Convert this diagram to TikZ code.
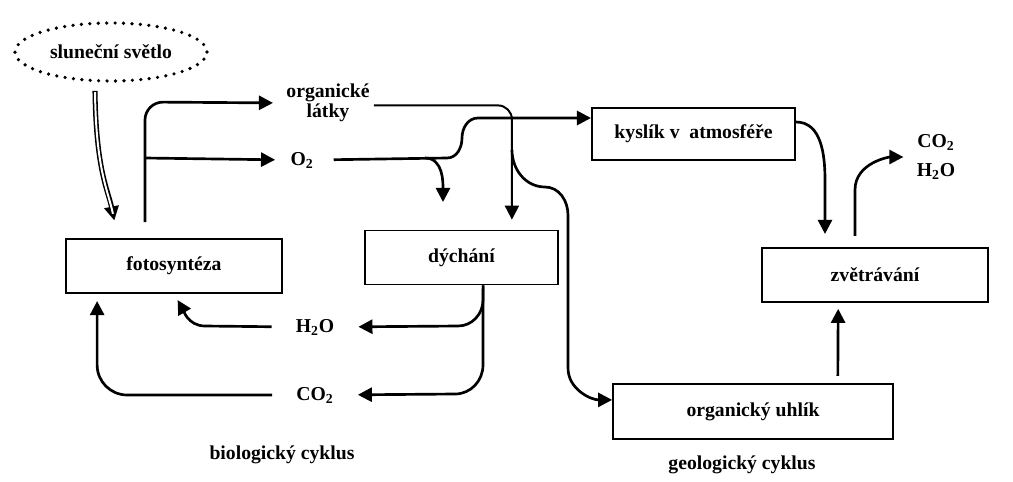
\documentclass[tikz,border=0pt]{standalone}
\usepackage{fontspec}
\setmainfont{Liberation Serif}
\usepackage{tikz}
\usetikzlibrary{arrows.meta}
\usetikzlibrary{shapes.geometric}

\begin{document}
\begin{tikzpicture}[x=0.025cm, y=-0.025cm, font=\fontsize{14}{14}\selectfont\bfseries]
%(x,y) in pixels of the scanned sketch, y pointing down

\tikzstyle{cyklbox}=[draw=black, line width=1.2pt, minimum height=1.35cm]
\tikzstyle{cykltext}=[align=center, inner sep=0pt]
\tikzstyle{tok}=[line width=1.9pt, -{Triangle[length=10pt,width=10pt]}]
\tikzstyle{tenky}=[tok, line width=1.4pt]

\useasboundingbox (0,0) rectangle (1013,481);

\node[ellipse, draw, line width=2.6pt, dash pattern=on 0pt off 6pt, line cap=round,
minimum width=4.8cm, minimum height=1.45cm] (slunce) at (111,52) {sluneční světlo};

\node[cyklbox, minimum width=5.4cm] (foto) at (174,266) {fotosyntéza};
\node[cyklbox, minimum width=4.83cm] (dych) at (461.5,257.5) {dýchání};
\node[cyklbox, minimum width=5.08cm, minimum height=1.3cm] (kyslik) at (693.5,134) {kyslík v\ \ atmosféře};
\node[cyklbox, minimum width=5.65cm] (zvetr) at (875,275) {zvětrávání};
\node[cyklbox, minimum width=7cm, minimum height=1.375cm] (uhlik) at (753,411.5) {organický uhlík};

\node[cykltext] (org) at (328,103) {organické\\látky};
\node[cykltext] (kyslO) at (302,160) {O\textsubscript{2}};
\node[cykltext] (voda) at (315,327) {H\textsubscript{2}O};
\node[cykltext] (co2) at (315,395) {CO\textsubscript{2}};
\node[cykltext] (prod) at (936,157) {CO\textsubscript{2}\\[6pt]H\textsubscript{2}O};
\node[cykltext] (biocyk) at (282,455) {biologický cyklus};
\node[cykltext] (geocyk) at (742,465) {geologický cyklus};

\coordinate (paprsek) at ([xshift=-0.4cm, yshift=-0.2cm]slunce.south);
\coordinate (vetev) at (145,158);
\coordinate (vetev2) at (512,150);
\coordinate (vetev3) at (425,158);
\coordinate (dolu) at (443,202);
\coordinate (dolni) at ([xshift=0.54cm]dych.south);

% svetlo
\draw[line width=3.6pt, -{Triangle[length=10pt,width=10pt]}, shorten >=0.45cm]
(paprsek) .. controls (96,170) and (108,190) .. ([xshift=-1.4cm]foto.north);
\draw[white, line width=1.4pt, shorten >=0.62cm, shorten <=0.03cm]
(paprsek) .. controls (96,170) and (108,190) .. ([xshift=-1.4cm]foto.north);

% biologicky cyklus
\draw[tok, rounded corners=0.45cm, shorten >=0.33cm]
([xshift=-0.725cm, yshift=0.4cm]foto.north) -- (145,102) -- (org.west);
\draw[tok, shorten >=0.38cm] (vetev) -- (kyslO.west);
\draw[tenky, rounded corners=0.35cm, shorten >=0.25cm]
([xshift=0.1cm, yshift=-0.06cm]org.east) -| ([xshift=1.26cm]dych.north);
\draw[tok, shorten <=0.5cm] (kyslO.east) -- (447,158) to[out=0,in=-90] (462,138)
to[out=90,in=180] (478,118) -- ([yshift=0.4cm]kyslik.west);
\draw[tok] (vetev3) to[out=0,in=90] (dolu);
\draw[tok, shorten >=0.6cm] (dolni) -- (483,300) to[out=-90,in=0] (458,326) -- (voda.east);
\draw[tok, shorten >=0.6cm] (dolni) -- (483,365) to[out=-90,in=0] (455,394) -- (co2.east);
\draw[tok, shorten <=0.6cm, shorten >=0.18cm] (voda.west) -- (205,326) to[out=180,in=-60] (foto.south);
\draw[tok, rounded corners=0.75cm, shorten <=0.6cm, shorten >=0.18cm]
(co2.west) -| ([xshift=0.8cm]foto.south west);

% geologicky cyklus
\draw[tok] (vetev2) to[out=-90,in=180] (545,187) to[out=0,in=90] (568,215) -- (568,368)
to[out=-90,in=180] ([yshift=0.29cm]uhlik.west);
\draw[tok, shorten >=0.33cm] ([yshift=0.3cm]kyslik.east) to[out=0,in=90] (825,180)
-- ([xshift=-1.25cm]zvetr.north);
\draw[tok, shorten >=0.33cm] ([xshift=-0.5cm, yshift=0.28cm]zvetr.north) -- (855,190)
to[out=90,in=180] (prod.west);
\draw[tok] ([xshift=2.12cm, yshift=0.18cm]uhlik.north) -- ([xshift=-0.92cm, yshift=-0.15cm]zvetr.south);
\end{tikzpicture}
\end{document}
